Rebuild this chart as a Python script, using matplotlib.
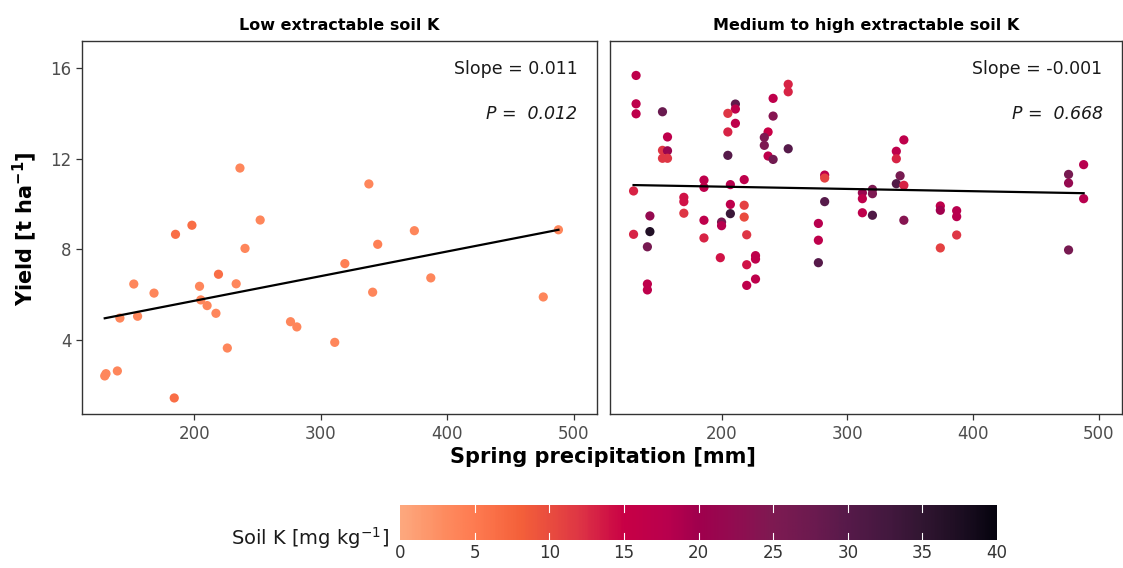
import numpy as np
import matplotlib
matplotlib.use("Agg")
import matplotlib.pyplot as plt
from matplotlib.colors import LinearSegmentedColormap

# data
left_precip = [236, 252, 198, 185, 240, 219, 152, 233, 204, 168, 205, 210, 217, 141, 155, 276,
               281, 226, 311, 129, 130, 139, 184, 338, 374, 345, 319, 387, 341, 476, 488]
left_yield = [11.58, 9.29, 9.06, 8.66, 8.04, 6.90, 6.47, 6.48, 6.37, 6.07, 5.77, 5.52, 5.18, 4.97,
              5.05, 4.81, 4.58, 3.65, 3.90, 2.42, 2.52, 2.64, 1.45, 10.88, 8.82, 8.22, 7.37, 6.74,
              6.11, 5.90, 8.86]
left_k = [3.5, 3.5, 6.5, 6.5, 3.5, 6.5, 3.5, 3.5, 3.5, 3.5, 3.5, 3.5, 3.5, 3.5, 3.5, 3.5,
          3.5, 3.5, 3.5, 3.5, 3.5, 3.5, 6.5, 3.5, 3.5, 4.5, 4.5, 3.5, 3.5, 3.5, 3.5]

right_precip = [132, 132, 132, 153, 157, 153, 157, 153, 157, 211, 211, 205, 211, 205, 205, 241,
                241, 237, 234, 234, 237, 241, 253, 253, 253, 130, 186, 186, 207, 218, 170, 170,
                170, 143, 143, 130, 141, 186, 186, 207, 207, 200, 200, 218, 218, 220, 199, 227,
                227, 220, 227, 220, 141, 141, 282, 282, 282, 277, 277, 277, 312, 312, 312, 320,
                320, 320, 345, 339, 339, 342, 339, 345, 345, 374, 374, 374, 387, 387, 387, 476,
                476, 476, 488, 488]
right_yield = [15.66, 14.41, 13.97, 14.06, 12.95, 12.36, 12.34, 12.01, 12.01, 14.40, 14.18, 13.99,
               13.55, 13.17, 12.14, 14.65, 13.87, 13.17, 12.93, 12.58, 12.11, 11.96, 15.27, 14.94,
               12.43, 10.57, 11.05, 10.73, 10.85, 11.07, 10.29, 10.10, 9.59, 9.47, 8.78, 8.66,
               8.11, 9.28, 8.50, 9.98, 9.57, 9.20, 9.04, 9.94, 9.42, 8.64, 7.63, 7.72, 7.57, 7.32,
               6.69, 6.41, 6.47, 6.21, 11.27, 11.14, 10.10, 9.14, 8.40, 7.41, 10.49, 10.23, 9.61,
               10.64, 10.45, 9.50, 12.82, 12.32, 11.99, 11.24, 10.89, 10.82, 9.28, 9.91, 9.72,
               8.06, 9.70, 9.44, 8.63, 11.30, 10.92, 7.97, 11.73, 10.23]
right_k = [17, 17, 17, 28, 17, 12, 21, 12, 12, 29, 17, 12, 17, 13, 30, 17, 24, 15, 25, 25, 17,
           27, 13, 13, 30, 13, 17, 17, 18, 17, 14, 14, 12, 22, 37, 13, 26, 17, 13, 17, 34, 26,
           18, 11, 10, 12, 14, 17, 17, 14, 17, 17, 17, 17, 17, 11, 30, 18, 17, 30, 21, 17, 17,
           25, 25, 31, 17, 17, 13, 26, 31, 13, 24, 17, 20, 11, 18, 18, 12, 26, 22, 26, 18, 18]

titles = ["Low extractable soil K", "Medium to high extractable soil K"]
fit_slope = [0.01086, -0.001]
fit_intercept = [3.56, 10.96]
fit_range = [(129, 488), (130, 488)]
slope_text = ["Slope = 0.011", "Slope = -0.001"]
p_text = ["0.012", "0.668"]
cbar_ticks = [0, 5, 10, 15, 20, 25, 30, 35, 40]

# colour scale sampled from the reference colour bar (position 0..1 over 0..40)
scale_pos = [0.0, 0.075, 0.125, 0.2, 0.25, 0.3, 0.375, 0.45, 0.5, 0.55, 0.625, 0.7, 0.75,
             0.825, 0.875, 0.95, 1.0]
scale_col = ["#fda87e", "#fe8a5e", "#fe7a50", "#f4603a", "#e94c3f", "#de3545", "#c80046",
             "#b8004e", "#a0004d", "#950a50", "#7e1a52", "#6a1a4f", "#571a4a", "#42183e",
             "#321632", "#1a0d20", "#07040f"]
cmap = LinearSegmentedColormap.from_list("soilk", list(zip(scale_pos, scale_col)))

fig = plt.figure(figsize=(11.23, 5.68), dpi=100)
ax1 = fig.add_axes([0.0730, 0.2706, 0.4586, 0.6577])
ax2 = fig.add_axes([0.5429, 0.2706, 0.4562, 0.6577])

panels = [(ax1, left_precip, left_yield, left_k), (ax2, right_precip, right_yield, right_k)]
for i, (ax, xs, ys, ks) in enumerate(panels):
    ax.scatter(xs, ys, c=ks, cmap=cmap, vmin=0, vmax=40, s=44, linewidths=0, zorder=2)
    x0, x1 = fit_range[i]
    xx = np.array([x0, x1])
    ax.plot(xx, fit_intercept[i] + fit_slope[i] * xx, color="black", lw=1.6, zorder=3)
    ax.set_xlim(111, 518.5)
    ax.set_ylim(0.73, 17.19)
    ax.set_xticks([200, 300, 400, 500])
    ax.set_yticks([4, 8, 12, 16])
    ax.tick_params(direction="out", length=4, width=0.9, color="#333333",
                   labelcolor="#4d4d4d", labelsize=12)
    for s in ax.spines.values():
        s.set_color("#333333")
        s.set_linewidth(1.0)
    ax.set_title(titles[i], fontsize=11.5, fontweight="bold", pad=8)
    ax.text(0.962, 0.925, slope_text[i], transform=ax.transAxes, ha="right", va="center",
            fontsize=12.5, color="#1a1a1a")
    ax.text(0.962, 0.804, "P =  " + p_text[i], transform=ax.transAxes, ha="right",
            va="center", fontsize=12.5, color="#1a1a1a", style="italic")
ax2.set_yticklabels([])
ax2.tick_params(axis="y", length=0)

fig.text(0.537, 0.195, "Spring precipitation [mm]", ha="center", va="center",
         fontsize=15, fontweight="bold")
fig.text(0.022, 0.598, "Yield [t ha$^{\\mathbf{-1}}$]", ha="center", va="center",
         rotation=90, fontsize=15, fontweight="bold")

# colour bar
cax = fig.add_axes([0.3562, 0.0493, 0.5316, 0.0616])
grad = np.linspace(0, 40, 200).reshape(1, -1)
cax.imshow(grad, aspect="auto", cmap=cmap, vmin=0, vmax=40, extent=[0, 40, 0, 1])
for t in cbar_ticks[1:-1]:
    cax.plot([t, t], [0, 0.2], color="white", lw=0.8)
    cax.plot([t, t], [0.8, 1], color="white", lw=0.8)
cax.set_xlim(0, 40)
cax.set_ylim(0, 1)
cax.set_yticks([])
cax.set_xticks(cbar_ticks)
cax.tick_params(axis="x", length=0, labelsize=12, labelcolor="#333333", pad=3)
for s in cax.spines.values():
    s.set_visible(False)
fig.text(0.3460, 0.0520, "Soil K [mg kg$^{-1}$]", ha="right", va="center", fontsize=14,
         color="#1a1a1a")

fig.savefig("out.png", dpi=100)
